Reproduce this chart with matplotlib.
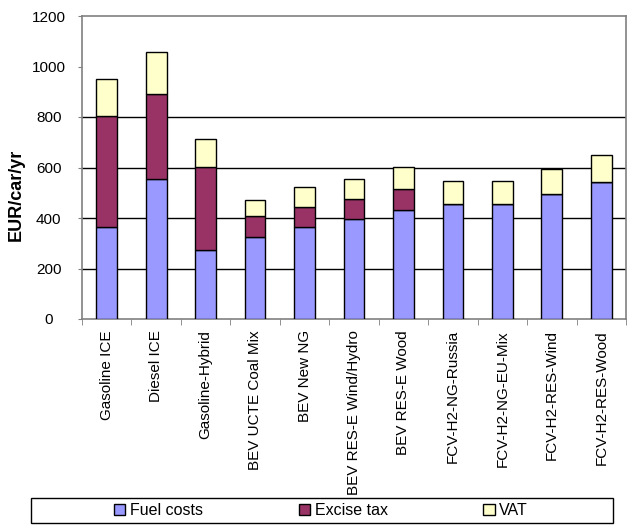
import matplotlib.pyplot as plt
import matplotlib.patches as mpatches
import numpy as np

plt.rcParams['font.family'] = ['Liberation Sans', 'DejaVu Sans']

categories = ["Gasoline ICE", "Diesel ICE", "Gasoline-Hybrid", "BEV UCTE Coal Mix",
              "BEV New NG", "BEV RES-E Wind/Hydro", "BEV RES-E Wood",
              "FCV-H2-NG-Russia", "FCV-H2-NG-EU-Mix", "FCV-H2-RES-Wind",
              "FCV-H2-RES-Wood"]
fuel_costs = [363, 553, 272, 323, 365, 395, 432, 455, 455, 494, 541]
excise_tax = [442, 338, 330, 85, 80, 81, 83, 0, 0, 0, 0]
vat = [144, 168, 111, 64, 76, 77, 86, 93, 93, 100, 107]

W, H = 627, 525
fig = plt.figure(figsize=(W / 100, H / 100), dpi=100)
ax = fig.add_axes([82 / W, (H - 319) / H, (626 - 82) / W, (319 - 16) / H])

x = np.arange(len(categories))
width = 0.42
fuel = np.array(fuel_costs)
exc = np.array(excise_tax)
v = np.array(vat)

ax.bar(x, fuel, width, color='#9999FF', edgecolor='black', linewidth=1, label='Fuel costs', zorder=3)
ax.bar(x, exc, width, bottom=fuel, color='#993366', edgecolor='black', linewidth=1, label='Excise tax', zorder=3)
ax.bar(x, v, width, bottom=fuel + exc, color='#FFFFCC', edgecolor='black', linewidth=1, label='VAT', zorder=3)

for yv in [200, 400, 600, 800]:
    ax.axhline(yv, color='black', linewidth=1, zorder=1)

ax.set_xlim(-0.5, len(categories) - 0.5)
ax.set_ylim(0, 1200)
ax.set_yticks(np.arange(0, 1201, 200))
ax.set_xticks(x)
ax.set_xticklabels(categories, rotation=90, fontsize=11)
ax.set_xticks(np.arange(-0.5, len(categories), 1), minor=True)
ax.tick_params(axis='x', which='major', length=0, pad=8)
ax.tick_params(axis='x', which='minor', length=4, color='#808080', direction='out')
ax.tick_params(axis='y', length=3, color='#808080', labelsize=11, pad=21)
for lab in ax.get_yticklabels():
    lab.set_horizontalalignment('center')
for s in ax.spines.values():
    s.set_color('#808080')
    s.set_linewidth(1.2)

fig.text(16 / W, 1 - 195 / H, 'EUR/car/yr', rotation=90, fontsize=13,
         fontweight='bold', ha='center', va='center')

# legend box
fig.patches.append(mpatches.Rectangle((31 / W, (H - 523) / H), (613 - 31) / W, 25 / H,
                                      transform=fig.transFigure, fill=False,
                                      edgecolor='black', linewidth=1))
fig.legend(loc='center', bbox_to_anchor=(321 / W, (H - 510.5) / H),
           ncol=3, fontsize=11.5, frameon=False, handlelength=0.7, handleheight=0.7,
           handletextpad=0.3, columnspacing=6.0, borderpad=0)

fig.savefig('out.png', dpi=100)
